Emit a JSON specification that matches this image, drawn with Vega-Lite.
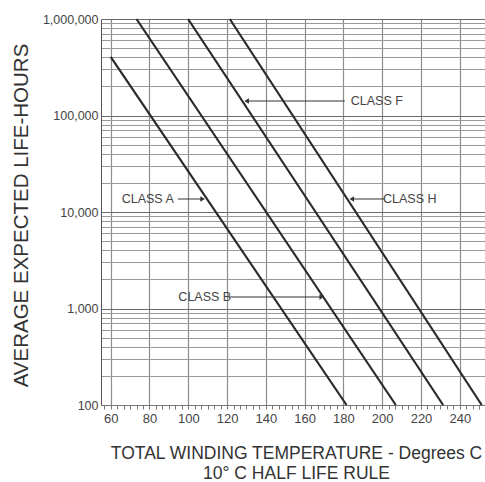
{
  "$schema": "https://vega.github.io/schema/vega-lite/v6.json",
  "autosize": "none",
  "width": 384,
  "height": 386,
  "padding": {"left": 101, "top": 19, "right": 0, "bottom": 77},
  "background": "white",
  "config": {"view": {"stroke": null}, "font": "Liberation Sans"},
  "datasets": {
    "lines": [
      {"cls": "A", "T": 60, "life": 406000},
      {"cls": "A", "T": 181.6, "life": 100},
      {"cls": "B", "T": 73.3, "life": 1000000},
      {"cls": "B", "T": 207, "life": 100},
      {"cls": "F", "T": 99.9, "life": 1000000},
      {"cls": "F", "T": 231.4, "life": 100},
      {"cls": "H", "T": 121.4, "life": 1000000},
      {"cls": "H", "T": 251.3, "life": 100}
    ],
    "arrows": [
      {"label": "CLASS A", "T": 94.6, "T2": 107.4, "life": 13640},
      {"label": "CLASS B", "T": 120.9, "T2": 168.8, "life": 1316},
      {"label": "CLASS F", "T": 180.7, "T2": 130.1, "life": 141300},
      {"label": "CLASS H", "T": 201.3, "T2": 184.3, "life": 13640}
    ],
    "heads": [
      {"T": 107.4, "life": 13640, "dir": "right"},
      {"T": 168.8, "life": 1316, "dir": "right"},
      {"T": 130.1, "life": 141300, "dir": "left"},
      {"T": 184.3, "life": 13640, "dir": "left"}
    ],
    "labels": [
      {"label": "CLASS A", "T": 79.1, "life": 13640},
      {"label": "CLASS B", "T": 108.5, "life": 1316},
      {"label": "CLASS F", "T": 197.2, "life": 141300},
      {"label": "CLASS H", "T": 214.2, "life": 13640}
    ]
  },
  "encoding": {
    "x": {
      "field": "T",
      "type": "quantitative",
      "scale": {"domain": [55, 253], "nice": false, "zero": false},
      "axis": {
        "values": [56.667, 60, 63.333, 66.667, 70, 73.333, 76.667, 80, 83.333, 86.667, 90, 93.333, 96.667, 100, 103.333, 106.667, 110, 113.333, 116.667, 120, 123.333, 126.667, 130, 133.333, 136.667, 140, 143.333, 146.667, 150, 153.333, 156.667, 160, 163.333, 166.667, 170, 173.333, 176.667, 180, 183.333, 186.667, 190, 193.333, 196.667, 200, 203.333, 206.667, 210, 213.333, 216.667, 220, 223.333, 226.667, 230, 233.333, 236.667, 240, 243.333, 246.667, 250],
        "grid": true,
        "gridColor": "#8c8c8c",
        "gridWidth": 1.2,
        "gridOpacity": {"condition": {"test": "abs(datum.value/20 - round(datum.value/20)) < 0.001", "value": 1}, "value": 0},
        "labelExpr": "abs(datum.value/20 - round(datum.value/20)) < 0.001 ? format(datum.value, 'd') : ''",
        "labelOverlap": false,
        "labelFlush": false,
        "labelFontSize": 13,
        "labelColor": "#444",
        "labelPadding": 3,
        "tickSize": 4,
        "tickColor": "#777",
        "domainColor": "#777",
        "title": ["TOTAL WINDING TEMPERATURE - Degrees C", "10° C HALF LIFE RULE"],
        "titleFont": "Liberation Sans",
        "titleFontSize": 17.5,
        "titleFontWeight": "normal",
        "titleColor": "#333",
        "titleLineHeight": 20,
        "titleBaseline": "alphabetic",
        "titleX": 195,
        "titleY": 53
      }
    },
    "y": {
      "field": "life",
      "type": "quantitative",
      "scale": {"type": "log", "domain": [100, 1000000], "nice": false},
      "axis": {
        "values": [100, 200, 300, 400, 500, 600, 700, 800, 900, 1000, 2000, 3000, 4000, 5000, 6000, 7000, 8000, 9000, 10000, 20000, 30000, 40000, 50000, 60000, 70000, 80000, 90000, 100000, 200000, 300000, 400000, 500000, 600000, 700000, 800000, 900000, 1000000],
        "grid": true,
        "gridColor": {"condition": {"test": "indexof([100,1000,10000,100000,1000000], datum.value) >= 0", "value": "#6a6a6a"}, "value": "#9a9a9a"},
        "gridWidth": 1.2,
        "ticks": false,
        "labelExpr": "indexof([100,1000,10000,100000,1000000], datum.value) >= 0 ? format(datum.value, ',') : ''",
        "labelOverlap": false,
        "labelFlush": false,
        "labelFontSize": 12.5,
        "labelColor": "#444",
        "labelPadding": 3,
        "domainColor": "#555",
        "title": "AVERAGE EXPECTED LIFE-HOURS",
        "titleFont": "Liberation Sans",
        "titleFontSize": 20.5,
        "titleFontWeight": "normal",
        "titleColor": "#333",
        "titleX": -70,
        "titleY": 196
      }
    }
  },
  "layer": [
    {
      "data": {"name": "lines"},
      "mark": {"type": "line", "color": "#2a2a2a", "strokeWidth": 2.2},
      "encoding": {"detail": {"field": "cls"}}
    },
    {
      "data": {"name": "arrows"},
      "mark": {"type": "rule", "color": "#333", "strokeWidth": 1},
      "encoding": {"x2": {"field": "T2"}}
    },
    {
      "data": {"name": "heads"},
      "mark": {"type": "point", "filled": true, "color": "#333", "opacity": 1, "size": 28},
      "encoding": {
        "shape": {"field": "dir", "type": "nominal", "scale": {"domain": ["right", "left"], "range": ["triangle-right", "triangle-left"]}, "legend": null}
      }
    },
    {
      "data": {"name": "labels"},
      "mark": {"type": "text", "fontSize": 12.5, "color": "#444", "align": "center", "baseline": "middle"},
      "encoding": {"text": {"field": "label"}}
    }
  ]
}
